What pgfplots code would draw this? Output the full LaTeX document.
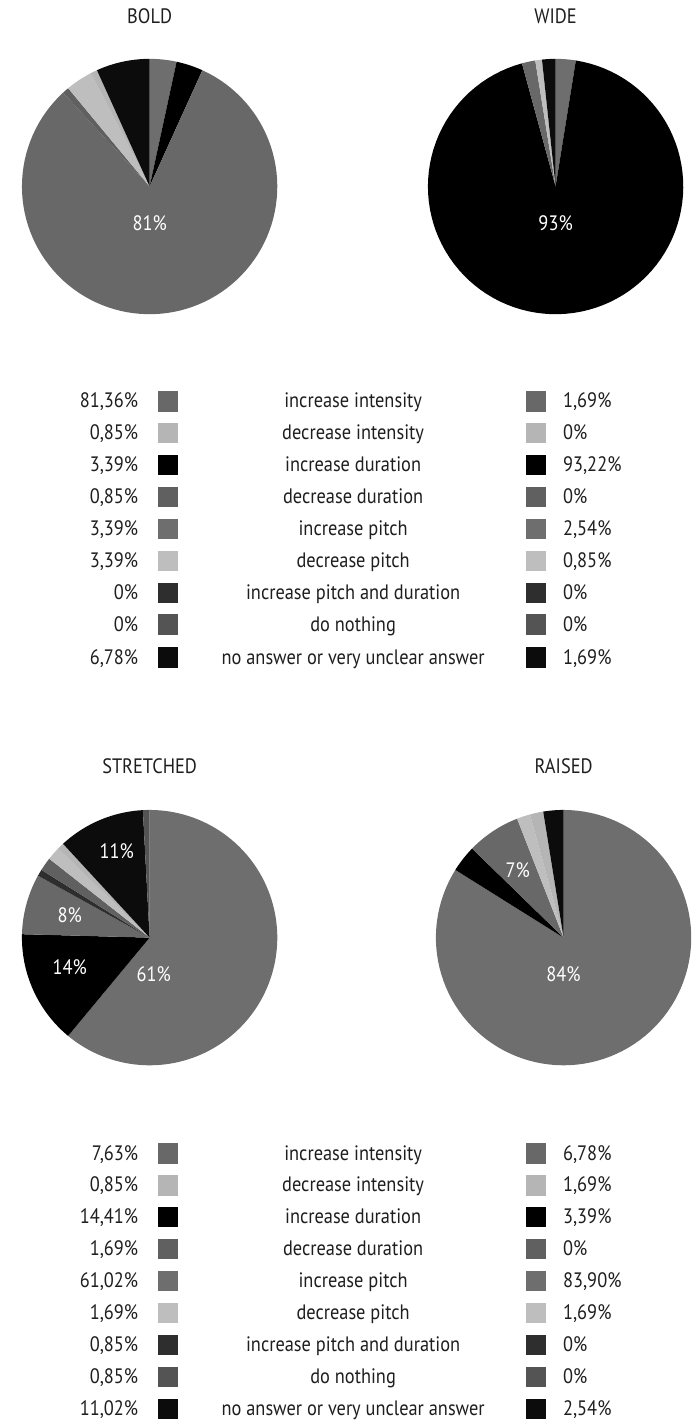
\documentclass[border=0pt]{standalone}
\usepackage{fontspec}
\setmainfont{PT Sans}[FakeStretch=0.88]
\usepackage{pgfplots}
\pgfplotsset{compat=1.18}

% one grey per answer
\definecolor{incint}{HTML}{686868}
\definecolor{decint}{HTML}{B5B5B5}
\definecolor{incdur}{HTML}{000000}
\definecolor{decdur}{HTML}{606060}
\definecolor{incpit}{HTML}{6E6E6E}
\definecolor{decpit}{HTML}{BEBEBE}
\definecolor{incpd}{HTML}{2E2E2E}
\definecolor{nothing}{HTML}{545454}
\definecolor{noans}{HTML}{0C0C0C}
\definecolor{txt}{HTML}{1E1E1E}

\newcommand{\f}{\fontsize{21}{25}\selectfont}

% pie slice: centre x, centre y, radius, from %, to % (clockwise from 12 o'clock), colour
\newcommand{\slice}[6]{%
  \addplot[fill=#6, draw=none, domain=3.6*#4:3.6*#5, samples=100, variable=\t]
    ({#1+#3*sin(\t)}, {#2-#3*cos(\t)}) -- (axis cs:#1,#2) -- cycle;}

% legend row: y, left value, label, right value, colour
\newcommand{\legrow}[5]{%
  \addplot[only marks, mark=square*, mark size=9.8pt, color=#5] coordinates {(168,#1) (537,#1)};
  \node[anchor=base east] at (axis cs:142,#1+7) {#2};
  \node[anchor=base] at (axis cs:354,#1+7) {#3};
  \node[anchor=base west] at (axis cs:561,#1+7) {#4};}

\begin{document}
\begin{tikzpicture}[font=\f, text=txt]
\begin{axis}[scale only axis, width=699bp, height=1423bp,
  xmin=0, xmax=699, ymin=0, ymax=1423, y dir=reverse,
  hide axis, clip=false]
\path (axis cs:0,0) rectangle (axis cs:699,1423);

% BOLD
\slice{150}{187}{128}{0}{3.39}{incpit}
\slice{150}{187}{128}{3.39}{6.78}{incdur}
\slice{150}{187}{128}{6.78}{88.14}{incint}
\slice{150}{187}{128}{88.14}{88.99}{decdur}
\slice{150}{187}{128}{88.99}{92.38}{decpit}
\slice{150}{187}{128}{92.38}{93.23}{decint}
\slice{150}{187}{128}{93.23}{100}{noans}

% WIDE
\slice{557}{187}{128}{0}{2.54}{incpit}
\slice{557}{187}{128}{2.54}{95.76}{incdur}
\slice{557}{187}{128}{95.76}{97.45}{incint}
\slice{557}{187}{128}{97.45}{98.30}{decpit}
\slice{557}{187}{128}{98.30}{100}{noans}

% STRETCHED
\slice{150}{940}{128}{0}{61.02}{incpit}
\slice{150}{940}{128}{61.02}{75.43}{incdur}
\slice{150}{940}{128}{75.43}{83.06}{incint}
\slice{150}{940}{128}{83.06}{83.91}{incpd}
\slice{150}{940}{128}{83.91}{85.60}{decdur}
\slice{150}{940}{128}{85.60}{87.29}{decpit}
\slice{150}{940}{128}{87.29}{88.14}{decint}
\slice{150}{940}{128}{88.14}{99.16}{noans}
\slice{150}{940}{128}{99.16}{100}{nothing}

% RAISED
\slice{565}{940}{128}{0}{83.90}{incpit}
\slice{565}{940}{128}{83.90}{87.29}{incdur}
\slice{565}{940}{128}{87.29}{94.07}{incint}
\slice{565}{940}{128}{94.07}{95.76}{decpit}
\slice{565}{940}{128}{95.76}{97.45}{decint}
\slice{565}{940}{128}{97.45}{100}{noans}

% titles
\node[anchor=base] at (axis cs:150,24) {BOLD};
\node[anchor=base] at (axis cs:557,24) {WIDE};
\node[anchor=base] at (axis cs:150,775) {STRETCHED};
\node[anchor=base] at (axis cs:565,775) {RAISED};

% labels inside the pies
\node[anchor=base, text=white] at (axis cs:150,231) {81\%};
\node[anchor=base, text=white] at (axis cs:557,231) {93\%};
\node[anchor=base, text=white] at (axis cs:154,984) {61\%};
\node[anchor=base, text=white] at (axis cs:70,977) {14\%};
\node[anchor=base, text=white] at (axis cs:70,925) {8\%};
\node[anchor=base, text=white] at (axis cs:117,861) {11\%};
\node[anchor=base, text=white] at (axis cs:565,984) {84\%};
\node[anchor=base, text=white] at (axis cs:519,880) {7\%};

% upper legend (BOLD | WIDE)
\legrow{402}{81,36\%}{increase intensity}{1,69\%}{incint}
\legrow{434}{0,85\%}{decrease intensity}{0\%}{decint}
\legrow{466}{3,39\%}{increase duration}{93,22\%}{incdur}
\legrow{498}{0,85\%}{decrease duration}{0\%}{decdur}
\legrow{530}{3,39\%}{increase pitch}{2,54\%}{incpit}
\legrow{562}{3,39\%}{decrease pitch}{0,85\%}{decpit}
\legrow{594}{0\%}{increase pitch and duration}{0\%}{incpd}
\legrow{626}{0\%}{do nothing}{0\%}{nothing}
\legrow{659}{6,78\%}{no answer or very unclear answer}{1,69\%}{noans}

% lower legend (STRETCHED | RAISED)
\legrow{1156}{7,63\%}{increase intensity}{6,78\%}{incint}
\legrow{1188}{0,85\%}{decrease intensity}{1,69\%}{decint}
\legrow{1220}{14,41\%}{increase duration}{3,39\%}{incdur}
\legrow{1252}{1,69\%}{decrease duration}{0\%}{decdur}
\legrow{1284}{61,02\%}{increase pitch}{83,90\%}{incpit}
\legrow{1316}{1,69\%}{decrease pitch}{1,69\%}{decpit}
\legrow{1348}{0,85\%}{increase pitch and duration}{0\%}{incpd}
\legrow{1380}{0,85\%}{do nothing}{0\%}{nothing}
\legrow{1412}{11,02\%}{no answer or very unclear answer}{2,54\%}{noans}
\end{axis}
\end{tikzpicture}
\end{document}
